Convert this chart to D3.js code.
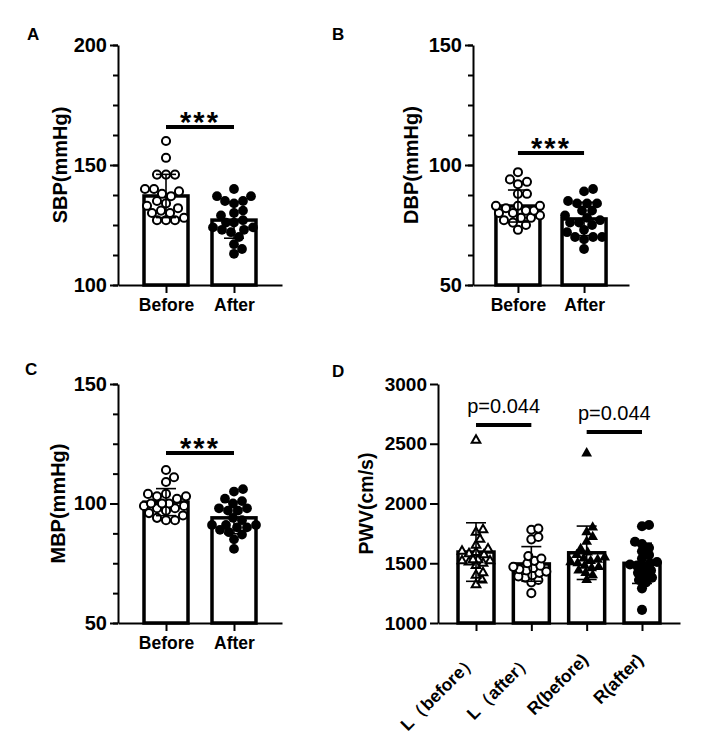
<!DOCTYPE html>
<html>
<head>
<meta charset="utf-8">
<script src="https://cdn.jsdelivr.net/npm/d3@7"></script>
<style>
  body { margin: 0; background: #fff; }
  text { font-family: Arial, "Liberation Sans", sans-serif; }
</style>
</head>
<body>
<div id="chart"></div>
<script>

// ---------- data ----------
var bpGroups = ['Before', 'After'];
var bpTicks = { A: [100, 150, 200], B: [50, 100, 150], C: [50, 100, 150] };

var sbpBefore = [160, 153, 146, 146, 146, 140, 140, 139, 138, 137, 135, 134, 133, 132, 131, 130, 130, 128, 127, 127, 127];
var sbpAfter = [140, 137, 137, 135, 135, 134, 131, 130, 129, 127, 126, 124, 123, 123, 122, 120, 117, 115, 113, 126, 124];

var dbpBefore = [97, 94, 93, 92, 88, 88, 83, 82, 83, 83, 81, 81, 80, 80, 79, 78, 78, 77, 76, 75, 73];
var dbpAfter = [90, 89, 85, 84, 84, 84, 81, 81, 79, 78, 77, 76, 76, 75, 73, 72, 70, 70, 70, 69, 65];

var mbpBefore = [114, 111, 109, 104, 103, 103, 102, 104, 100, 99, 100, 100, 99, 98, 98, 97, 96, 95, 94, 93, 93];
var mbpAfter = [106, 105, 102, 101, 100, 97, 98, 98, 97, 94, 93, 91, 91, 91, 90, 90, 89, 88, 87, 85, 81];

var pwvGroups = ['L（before）', 'L（after）', 'R(before)', 'R(after)'];
var pwvTicks = [1000, 1500, 2000, 2500, 3000];
var pwvLBefore = [2530, 1780, 1760, 1700, 1650, 1620, 1600, 1590, 1580, 1570, 1530, 1520, 1530, 1520, 1510, 1500, 1480, 1420, 1400, 1360, 1320];
var pwvLAfter = [1790, 1780, 1720, 1700, 1560, 1540, 1520, 1500, 1480, 1470, 1460, 1450, 1440, 1430, 1420, 1400, 1390, 1380, 1360, 1340, 1250];
var pwvRBefore = [2420, 1800, 1760, 1720, 1680, 1620, 1590, 1570, 1550, 1540, 1530, 1520, 1510, 1500, 1480, 1470, 1460, 1440, 1420, 1400, 1360];
var pwvRAfter = [1820, 1810, 1680, 1660, 1630, 1600, 1570, 1540, 1510, 1500, 1490, 1480, 1460, 1440, 1420, 1400, 1380, 1360, 1340, 1290, 1110];

// ---------- svg ----------
var svg = d3.select('#chart').append('svg')
  .attr('width', 722)
  .attr('height', 749);

// place points of one group side by side when they would overlap
function swarm(values, y, cx, minDist, maxOff) {
  var order = values.map(function (v, i) { return i; })
    .sort(function (a, b) { return values[a] - values[b]; });
  var placed = [];
  order.forEach(function (i) {
    var py = y(values[i]);
    var best = 0, bestScore = -1;
    for (var k = 0; k <= maxOff * 2; k++) {
      var off = (k % 2 ? 1 : -1) * Math.ceil(k / 2);
      var dmin = Infinity;
      placed.forEach(function (p) {
        var d = Math.hypot(p.x - (cx + off), p.y - py);
        if (d < dmin) dmin = d;
      });
      if (dmin >= minDist) { best = off; break; }
      if (dmin > bestScore) { bestScore = dmin; best = off; }
    }
    placed.push({ x: cx + best, y: py, v: values[i] });
  });
  return placed;
}

function drawPanel(o) {
  var g = svg.append('g');
  var y = d3.scaleLinear().domain(o.yDomain).range([o.yBottom, o.yTop]);
  var x = d3.scalePoint().domain(o.categories).range([o.xLeft, o.xRight]).padding(o.pad);

  // minor ticks
  if (o.minor) {
    g.append('g')
      .attr('transform', 'translate(' + o.xLeft + ',0)')
      .call(d3.axisLeft(y).tickValues(d3.range(o.yDomain[0], o.yDomain[1] + 0.01, o.minor)).tickSize(5).tickSizeOuter(0).tickFormat(''))
      .call(function (s) { s.select('.domain').remove(); })
      .selectAll('line').attr('stroke-width', 2);
  }

  // y axis
  var yAx = g.append('g')
    .attr('transform', 'translate(' + o.xLeft + ',0)')
    .call(d3.axisLeft(y).tickValues(o.yTicks).tickSize(8).tickSizeOuter(0).tickPadding(3).tickFormat(d3.format('d')));
  yAx.select('.domain').attr('stroke-width', 2);
  yAx.selectAll('line').attr('stroke-width', 2);
  yAx.selectAll('text')
    .attr('font-size', o.tickSize).attr('font-weight', 'bold').attr('fill', '#000')
    .attr('font-family', 'Arial, "Liberation Sans", sans-serif');

  // x axis
  var xAx = g.append('g')
    .attr('transform', 'translate(0,' + o.yBottom + ')')
    .call(d3.axisBottom(x).tickSize(8).tickSizeOuter(0).tickPadding(6));
  xAx.select('.domain').attr('stroke-width', 2);
  xAx.selectAll('line').attr('stroke-width', 2);
  var xt = xAx.selectAll('text')
    .attr('font-size', 17.5).attr('font-weight', 'bold').attr('fill', '#000')
    .attr('font-family', 'Arial, "Liberation Sans", "Noto Sans CJK SC", sans-serif');
  if (o.rotate) {
    xt.attr('text-anchor', 'end')
      .attr('dy', null)
      .attr('y', 0)
      .attr('transform', 'translate(2,38) rotate(-45)');
  }

  // bars
  var stats = o.series.map(function (s, i) {
    return { c: o.categories[i], mean: d3.mean(s), sd: d3.deviation(s), values: s };
  });
  g.selectAll('.bar').data(stats).enter().append('rect')
    .attr('class', 'bar')
    .attr('x', function (d) { return x(d.c) - o.barWidth / 2; })
    .attr('y', function (d) { return y(d.mean); })
    .attr('width', o.barWidth)
    .attr('height', function (d) { return o.yBottom - y(d.mean); })
    .attr('fill', '#fff')
    .attr('stroke', '#000')
    .attr('stroke-width', 3.5);

  // points
  stats.forEach(function (d, i) {
    var st = o.markers[i];
    var pts = swarm(d.values, y, x(d.c), st.dist, o.barWidth / 2);
    g.append('g').selectAll('path').data(pts).enter().append('path')
      .attr('transform', function (p) { return 'translate(' + p.x + ',' + p.y + ')'; })
      .attr('d', d3.symbol(st.type === 'tri' ? d3.symbolTriangle : d3.symbolCircle, st.size)())
      .attr('fill', st.open ? '#fff' : '#000')
      .attr('stroke', '#000')
      .attr('stroke-width', st.open ? 2 : 0);
  });

  // error bars (mean +- SD)
  var eb = g.selectAll('.err').data(stats).enter().append('g').attr('class', 'err')
    .attr('stroke', '#000').attr('stroke-width', 1.6);
  eb.append('line')
    .attr('x1', function (d) { return x(d.c); }).attr('x2', function (d) { return x(d.c); })
    .attr('y1', function (d) { return y(d.mean - d.sd); }).attr('y2', function (d) { return y(d.mean + d.sd); });
  [1, -1].forEach(function (sign) {
    eb.append('line')
      .attr('x1', function (d) { return x(d.c) - 10; }).attr('x2', function (d) { return x(d.c) + 10; })
      .attr('y1', function (d) { return y(d.mean + sign * d.sd); })
      .attr('y2', function (d) { return y(d.mean + sign * d.sd); });
  });

  // significance
  o.sig.forEach(function (s) {
    var ly = y(s.level);
    var x1 = x(o.categories[s.pair[0]]), x2 = x(o.categories[s.pair[1]]);
    g.append('line')
      .attr('x1', x1).attr('x2', x2).attr('y1', ly).attr('y2', ly)
      .attr('stroke', '#000').attr('stroke-width', 4);
    var t = g.append('text')
      .attr('x', (x1 + x2) / 2)
      .attr('text-anchor', 'middle')
      .text(s.text);
    if (s.text === '***') {
      t.attr('y', ly + 5).attr('font-size', 29).attr('font-weight', 'bold').attr('letter-spacing', 2);
    } else {
      t.attr('y', ly - 12).attr('font-size', 20);
    }
  });

  // axis title
  g.append('text')
    .attr('transform', 'translate(' + o.titleX + ',' + (o.yTop + o.yBottom) / 2 + ') rotate(-90)')
    .attr('text-anchor', 'middle')
    .attr('font-size', o.titleSize)
    .attr('font-weight', 'bold')
    .text(o.title);

  // panel letter
  g.append('text')
    .attr('x', o.label[1]).attr('y', o.label[2])
    .attr('font-size', 17).attr('font-weight', 'bold')
    .text(o.label[0]);
}

var openCircle = { type: 'circle', open: true, size: 52, dist: 8.5 };
var fullCircle = { type: 'circle', open: false, size: 75, dist: 8.5 };

drawPanel({
  label: ['A', 27, 40], title: 'SBP(mmHg)', titleX: 67, titleSize: 20, tickSize: 20,
  yDomain: [100, 200], yTicks: bpTicks.A, minor: 12.5, yBottom: 285, yTop: 45,
  categories: bpGroups, xLeft: 118, xRight: 282, pad: 0.706, barWidth: 44,
  series: [sbpBefore, sbpAfter], markers: [openCircle, fullCircle],
  sig: [{ pair: [0, 1], level: 165.8, text: '***' }]
});

drawPanel({
  label: ['B', 332, 40], title: 'DBP(mmHg)', titleX: 418, titleSize: 20, tickSize: 20,
  yDomain: [50, 150], yTicks: bpTicks.B, minor: 12.5, yBottom: 285, yTop: 45,
  categories: bpGroups, xLeft: 473, xRight: 629, pad: 0.68, barWidth: 44,
  series: [dbpBefore, dbpAfter], markers: [openCircle, fullCircle],
  sig: [{ pair: [0, 1], level: 105, text: '***' }]
});

drawPanel({
  label: ['C', 25, 375], title: 'MBP(mmHg)', titleX: 65, titleSize: 20, tickSize: 20,
  yDomain: [50, 150], yTicks: bpTicks.C, minor: 12.5, yBottom: 623, yTop: 384,
  categories: bpGroups, xLeft: 118, xRight: 282, pad: 0.706, barWidth: 44,
  series: [mbpBefore, mbpAfter], markers: [openCircle, fullCircle],
  sig: [{ pair: [0, 1], level: 121.1, text: '***' }]
});

drawPanel({
  label: ['D', 332, 377], title: 'PWV(cm/s)', titleX: 373, titleSize: 19.5, tickSize: 19,
  yDomain: [1000, 3000], yTicks: pwvTicks, minor: 0, yBottom: 623, yTop: 384,
  categories: pwvGroups, xLeft: 438, xRight: 680, pad: 0.687, barWidth: 36, rotate: true,
  series: [pwvLBefore, pwvLAfter, pwvRBefore, pwvRAfter],
  markers: [
    { type: 'tri', open: true, size: 32, dist: 7 },
    { type: 'circle', open: true, size: 52, dist: 7 },
    { type: 'tri', open: false, size: 50, dist: 7 },
    { type: 'circle', open: false, size: 80, dist: 7 }
  ],
  sig: [
    { pair: [0, 1], level: 2657, text: 'p=0.044' },
    { pair: [2, 3], level: 2598, text: 'p=0.044' }
  ]
});

</script>
</body>
</html>
